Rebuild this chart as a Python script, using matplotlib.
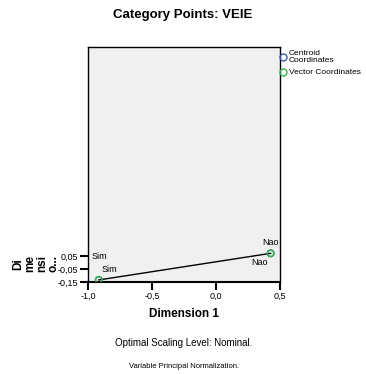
import matplotlib
matplotlib.use("Agg")
import matplotlib.pyplot as plt

plt.rcParams['font.family'] = ['Liberation Sans', 'DejaVu Sans']

# category points (dimension 1, dimension 2)
categories = ["Sim", "Nao"]
centroid_x = [-0.916, 0.427]
centroid_y = [-0.134, 0.074]
vector_x = [-0.916, 0.427]
vector_y = [-0.134, 0.074]

xticks = [-1.0, -0.5, 0.0, 0.5]
yticks = [-0.15, -0.05, 0.05]

fig = plt.figure(figsize=(3.66, 3.74), dpi=100)
ax = fig.add_axes([88/366, 92/374, 192/366, 235/374])
ax.set_facecolor("#f0f0f0")

ax.plot(vector_x, vector_y, color="black", lw=1, zorder=2)
ax.scatter(centroid_x, centroid_y, s=22, facecolors="none", edgecolors="#3c5aa8", lw=1, zorder=3)
ax.scatter(vector_x, vector_y, s=22, facecolors="none", edgecolors="#33b24a", lw=1, zorder=4)

# labels: centroid labels and vector labels
ax.annotate(categories[0], (centroid_x[0], centroid_y[0]), xytext=(-5, 17), textcoords="offset points",
            fontsize=6.5, ha="left", va="center")
ax.annotate(categories[0], (vector_x[0], vector_y[0]), xytext=(2, 7.5), textcoords="offset points",
            fontsize=6.5, ha="left", va="center")
ax.annotate(categories[1], (centroid_x[1], centroid_y[1]), xytext=(0, 7.5), textcoords="offset points",
            fontsize=6.5, ha="center", va="center")
ax.annotate(categories[1], (vector_x[1], vector_y[1]), xytext=(-8, -6.5), textcoords="offset points",
            fontsize=6.5, ha="center", va="center")

ax.set_xlim(-1.0, 0.5)
ax.set_ylim(-0.15, -0.15 + 235/128)
ax.set_xticks(xticks)
ax.set_xticklabels([("%.1f" % t).replace(".", ",") for t in xticks], fontsize=6.5)
ax.set_yticks(yticks)
ax.set_yticklabels([("%.2f" % t).replace(".", ",") for t in yticks], fontsize=6.5)
ax.tick_params(axis="x", direction="out", length=6, width=1.5, pad=1)
ax.tick_params(axis="y", direction="out", length=6, width=1.5, pad=1)
for s in ax.spines.values():
    s.set_linewidth(1)
ax.spines["bottom"].set_linewidth(1.5)

ax.set_xlabel("Dimension 1", fontsize=8.5, fontweight="bold", labelpad=5)
fig.text(36/366, 1 - 264/374, "Di\nme\nnsi\no...", fontsize=8.5, fontweight="bold",
         rotation=90, ha="center", va="center", linespacing=0.95, multialignment="center")

fig.text(0.5, 1 - 15/374, "Category Points: VEIE", fontsize=9.5, fontweight="bold", ha="center", va="center")
fig.text(184/366, 1 - 343/374, "Optimal Scaling Level: Nominal.", fontsize=7, ha="center", va="center")
fig.text(184/366, 1 - 366/374, "Variable Principal Normalization.", fontsize=5.5, ha="center", va="center")

# legend
fig.lines.append(plt.Line2D([283/366], [1 - 57/374], marker="o", ms=5, mfc="none", mec="#3c5aa8",
                            transform=fig.transFigure, figure=fig))
fig.lines.append(plt.Line2D([283/366], [1 - 72/374], marker="o", ms=5, mfc="none", mec="#33b24a",
                            transform=fig.transFigure, figure=fig))
fig.text(289/366, 1 - 57/374, "Centroid\nCoordinates", fontsize=6, ha="left", va="center", linespacing=0.85)
fig.text(289/366, 1 - 72/374, "Vector Coordinates", fontsize=6, ha="left", va="center")

fig.savefig("out.png", dpi=100)
